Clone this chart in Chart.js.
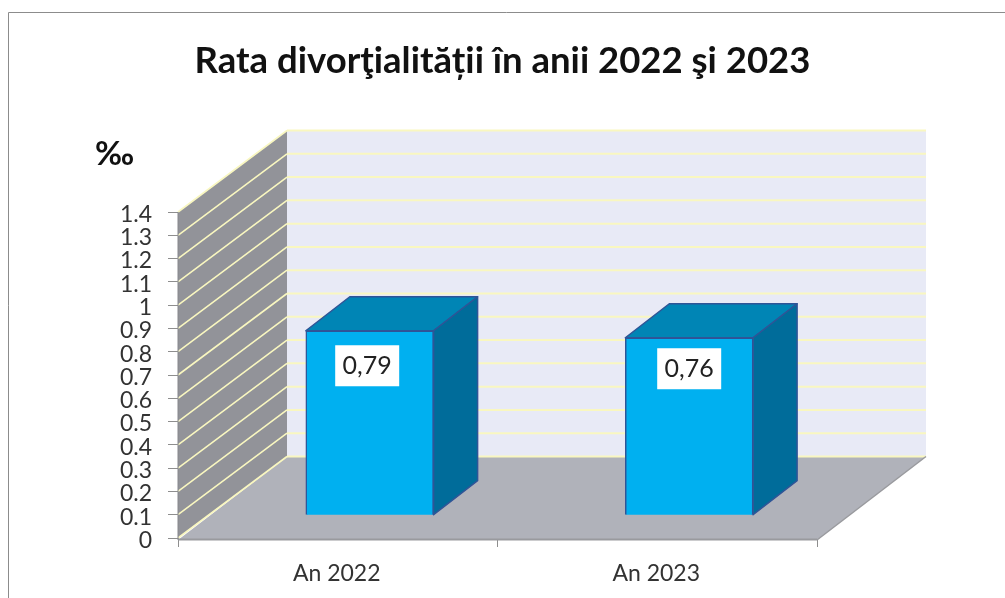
<!DOCTYPE html>
<html lang="ro">
<head>
<meta charset="utf-8">
<title>Rata divorţialității</title>
<script src="https://cdn.jsdelivr.net/npm/chart.js@4"></script>
<style>
  html, body { margin: 0; padding: 0; background: #fff; overflow: hidden; }
  canvas { display: block; }
</style>
</head>
<body>
<canvas id="rateChart" width="1005" height="598"></canvas>
<script>
// Chart data
const chartTitle = "Rata divorţialității în anii 2022 şi 2023";
const unitLabel = "‰";
const categories = ["An 2022", "An 2023"];
const rateValues = [0.79, 0.76];
const valueLabels = ["0,79", "0,76"];
const yTickLabels = ["0", "0.1", "0.2", "0.3", "0.4", "0.5", "0.6", "0.7", "0.8", "0.9", "1", "1.1", "1.2", "1.3", "1.4"];

// Fake 3D depth of the box and of the bars, in pixels
const boxDepth = { dx: 109, dy: 81.5 };
const barDepth = { dx: 44, dy: 34 };
// where each value label sits relative to the top centre of its bar
const labelNudge = [{ dx: -2.5, dy: 35 }, { dx: 0, dy: 31 }];

const gridYellow = "#F9F7C0";

function fillPoly(ctx, pts, fill, stroke, lineWidth) {
  ctx.beginPath();
  pts.forEach((p, i) => i ? ctx.lineTo(p[0], p[1]) : ctx.moveTo(p[0], p[1]));
  ctx.closePath();
  ctx.fillStyle = fill;
  ctx.fill();
  if (stroke) {
    ctx.strokeStyle = stroke;
    ctx.lineWidth = lineWidth || 1;
    ctx.lineJoin = "round";
    ctx.stroke();
  }
}

function strokeLine(ctx, x1, y1, x2, y2, color, width) {
  ctx.beginPath();
  ctx.moveTo(x1, y1);
  ctx.lineTo(x2, y2);
  ctx.strokeStyle = color;
  ctx.lineWidth = width;
  ctx.stroke();
}

// Walls and floor behind the bars
const box3d = {
  id: "box3d",
  beforeDatasetsDraw(chart) {
    const { ctx, chartArea: { left, right }, scales: { y } } = chart;
    const y0 = y.getPixelForValue(0);
    const yTop = y.getPixelForValue(1.4);
    const dx = boxDepth.dx, dy = boxDepth.dy;
    ctx.save();
    // back wall
    fillPoly(ctx, [[left + dx, yTop - dy], [right + dx, yTop - dy], [right + dx, y0 - dy], [left + dx, y0 - dy]], "#E8EAF6");
    // left wall
    fillPoly(ctx, [[left, yTop], [left + dx, yTop - dy], [left + dx, y0 - dy], [left, y0]], "#929399");
    // floor
    fillPoly(ctx, [[left, y0 + 2], [left + dx, y0 - dy], [right + dx, y0 - dy], [right, y0 + 2]], "#B0B2BA");
    // gridlines run along the left wall and across the back wall
    yTickLabels.forEach((_, i) => {
      const py = y.getPixelForValue(i / 10);
      strokeLine(ctx, left, py, left + dx, py - dy, gridYellow, 1.6);
      strokeLine(ctx, left + dx, py - dy, right + dx, py - dy, gridYellow, 2);
    });
    // floor edges
    strokeLine(ctx, left, y0 + 1.5, right, y0 + 1.5, "#999A9E", 2);
    strokeLine(ctx, right, y0 + 2, right + dx, y0 - dy, "#999A9E", 1.5);
    strokeLine(ctx, left, yTop, left, y0 + 2, "#86878C", 1);
    ctx.restore();
  },
  afterDatasetsDraw(chart) {
    const { ctx } = chart;
    const bars = chart.getDatasetMeta(0).data;
    const edge = "#2F5597";
    ctx.save();
    bars.forEach((bar, i) => {
      const half = bar.width / 2;
      const l = bar.x - half, r = bar.x + half, t = bar.y, b = bar.base;
      const dx = barDepth.dx, dy = barDepth.dy;
      fillPoly(ctx, [[l, t], [l + dx, t - dy], [r + dx, t - dy], [r, t]], "#0085B5", edge, 1.5);
      fillPoly(ctx, [[r, t], [r + dx, t - dy], [r + dx, b - dy], [r, b]], "#006C9A", edge, 1.5);

      // value label on a white box
      const cx = bar.x + labelNudge[i].dx, cy = t + labelNudge[i].dy;
      ctx.fillStyle = "#fff";
      ctx.fillRect(cx - 32, cy - 20.5, 64, 41);
      ctx.fillStyle = "#222";
      ctx.font = "25px Lato";
      ctx.textAlign = "center";
      ctx.textBaseline = "middle";
      ctx.fillText(valueLabels[i], cx, cy);
    });

    // unit above the axis
    ctx.fillStyle = "#111";
    ctx.font = "bold 33px Lato";
    ctx.textAlign = "center";
    ctx.textBaseline = "middle";
    ctx.fillText(unitLabel, 114.5, 154);

    // outer frame of the picture (only top and left show)
    strokeLine(ctx, 8.5, 598, 8.5, 12.5, "#8C8C8C", 1);
    strokeLine(ctx, 8.5, 12.5, 1005, 12.5, "#8C8C8C", 1);
    ctx.restore();
  }
};

const ctx = document.getElementById("rateChart").getContext("2d");
new Chart(ctx, {
  type: "bar",
  data: {
    labels: categories,
    datasets: [{
      data: rateValues.map((v, i) => ({ x: i + 0.5, y: v })),
      xAxisID: "xBar",
      yAxisID: "yBar",
      backgroundColor: "#00B0F0",
      borderColor: "#2F5597",
      borderWidth: 1.5,
      barPercentage: 1,
      categoryPercentage: 1
    }]
  },
  plugins: [box3d],
  options: {
    responsive: false,
    animation: false,
    events: [],
    plugins: {
      legend: { display: false },
      tooltip: { enabled: false },
      title: {
        display: true,
        text: chartTitle,
        color: "#111",
        font: { family: "Lato", size: 36.5, weight: "bold" },
        padding: { top: 39, bottom: 129.2 }
      }
    },
    layout: { padding: 0 },
    scales: {
      x: {
        type: "category",
        offset: true,
        afterFit: s => { s.height = 60; },
        grid: { offset: true, drawOnChartArea: false, color: "#8E8E8E", tickLength: 9 },
        border: { display: false },
        ticks: { color: "#333", padding: 13, labelOffset: -1, font: { family: "Lato", size: 23 }, maxRotation: 0 }
      },
      y: {
        min: 0,
        max: 1.4,
        afterFit: s => { s.width = 178; },
        grid: { drawOnChartArea: false, color: "#8E8E8E", tickLength: 10 },
        border: { display: false },
        ticks: {
          stepSize: 0.1,
          autoSkip: false,
          color: "#333",
          padding: 16,
          labelOffset: 2.5,
          font: { family: "Lato", size: 23 },
          callback: (value, i) => yTickLabels[i]
        }
      },
      // the bars stand a little inside the box: one tick up and 1/10 of a category across
      xBar: { type: "linear", display: false, offset: false, min: -0.1, max: 1.9, grid: { offset: false } },
      yBar: {
        position: "right",
        min: -0.1,
        max: 1.3,
        afterFit: s => { s.width = 188; },
        grid: { display: false },
        border: { display: false },
        ticks: { display: false }
      }
    }
  }
});
</script>
</body>
</html>
